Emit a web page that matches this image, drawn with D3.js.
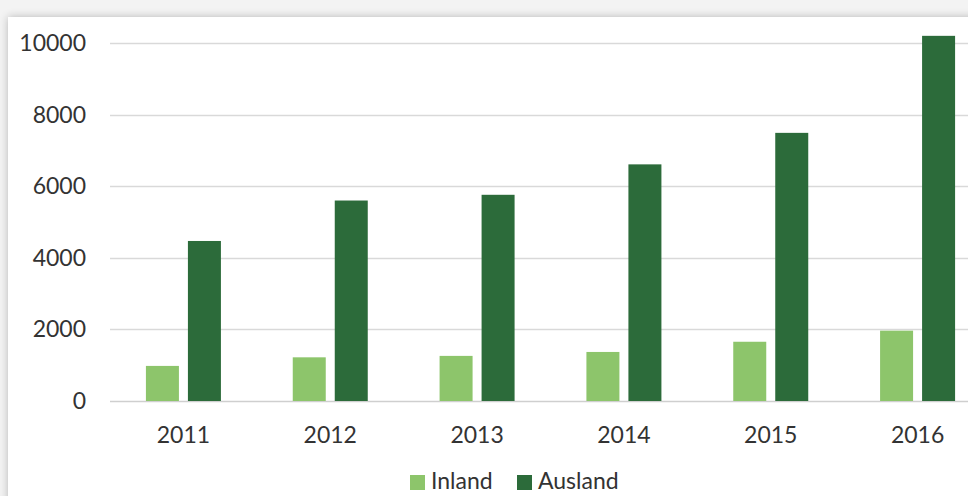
<!DOCTYPE html>
<html>
<head>
<meta charset="utf-8">
<script src="https://cdn.jsdelivr.net/npm/d3@7"></script>
<style>
  html, body { margin: 0; padding: 0; background: #f3f3f3; }
  svg { display: block; }
</style>
</head>
<body>
<svg id="chart" width="968" height="496"></svg>
<script>
const years = ["2011", "2012", "2013", "2014", "2015", "2016"];
const inland = [980, 1220, 1260, 1370, 1655, 1965];
const ausland = [4470, 5600, 5760, 6610, 7490, 10200];
const seriesNames = ["Inland", "Ausland"];
const seriesColors = ["#8dc56b", "#2c6b3a"];
const yTicks = [0, 2000, 4000, 6000, 8000, 10000];

const svg = d3.select("#chart");
const W = 968, H = 496;

// card with soft shadow
const defs = svg.append("defs");
const f = defs.append("filter").attr("id", "sh").attr("x", "-5%").attr("y", "-10%").attr("width", "110%").attr("height", "120%");
f.append("feGaussianBlur").attr("in", "SourceAlpha").attr("stdDeviation", 4);
f.append("feOffset").attr("dx", 0).attr("dy", 0).attr("result", "b");
f.append("feComponentTransfer").append("feFuncA").attr("type", "linear").attr("slope", 0.25);
const m = f.append("feMerge");
m.append("feMergeNode");
m.append("feMergeNode").attr("in", "SourceGraphic");

svg.append("rect").attr("x", 8).attr("y", 17).attr("width", W + 20).attr("height", H + 20)
  .attr("fill", "#ffffff").attr("filter", "url(#sh)");

const plot = { left: 110, right: 991, top: 43, bottom: 401 };

const x0 = d3.scaleBand().domain(years).range([plot.left, plot.right]).paddingInner(0).paddingOuter(0);
const y = d3.scaleLinear().domain([0, 10000]).range([plot.bottom, plot.top]);

const font = "Lato, 'Open Sans', sans-serif";
const fs = 23;

// gridlines
svg.append("g").selectAll("line").data(yTicks).join("line")
  .attr("x1", plot.left).attr("x2", W)
  .attr("y1", d => Math.round(y(d)) + 0.5).attr("y2", d => Math.round(y(d)) + 0.5)
  .attr("stroke", d => d === 0 ? "#cfcfcf" : "#d9d9d9").attr("stroke-width", 1.3);

// y tick labels
svg.append("g").selectAll("text").data(yTicks).join("text")
  .attr("x", 86).attr("y", d => y(d)).attr("dy", "0.35em")
  .attr("text-anchor", "end").attr("font-family", font).attr("font-size", fs)
  .attr("fill", "#333").text(d => d);

// bars
const barW = 33, gap = 9;
const data = years.map((yr, i) => ({ yr, vals: [inland[i], ausland[i]] }));
const groups = svg.append("g").selectAll("g").data(data).join("g");
groups.selectAll("rect").data(d => d.vals.map((v, k) => ({ yr: d.yr, v, k }))).join("rect")
  .attr("x", d => x0(d.yr) + x0.bandwidth() / 2 + (d.k === 0 ? -(gap / 2 + barW) : gap / 2))
  .attr("width", barW)
  .attr("y", d => y(d.v))
  .attr("height", d => plot.bottom - y(d.v))
  .attr("fill", d => seriesColors[d.k]);

// x labels
svg.append("g").selectAll("text").data(years).join("text")
  .attr("x", d => x0(d) + x0.bandwidth() / 2).attr("y", 443)
  .attr("text-anchor", "middle").attr("font-family", font).attr("font-size", fs)
  .attr("fill", "#333").text(d => d);

// legend
const legX = [410, 517];
const leg = svg.append("g").selectAll("g").data(seriesNames).join("g")
  .attr("transform", (d, i) => `translate(${legX[i]},0)`);
leg.append("rect").attr("x", 0).attr("y", 475).attr("width", 15).attr("height", 15)
  .attr("fill", (d, i) => seriesColors[i]);
leg.append("text").attr("x", 21).attr("y", 489)
  .attr("font-family", font).attr("font-size", fs).attr("fill", "#333").text(d => d);
</script>
</body>
</html>
